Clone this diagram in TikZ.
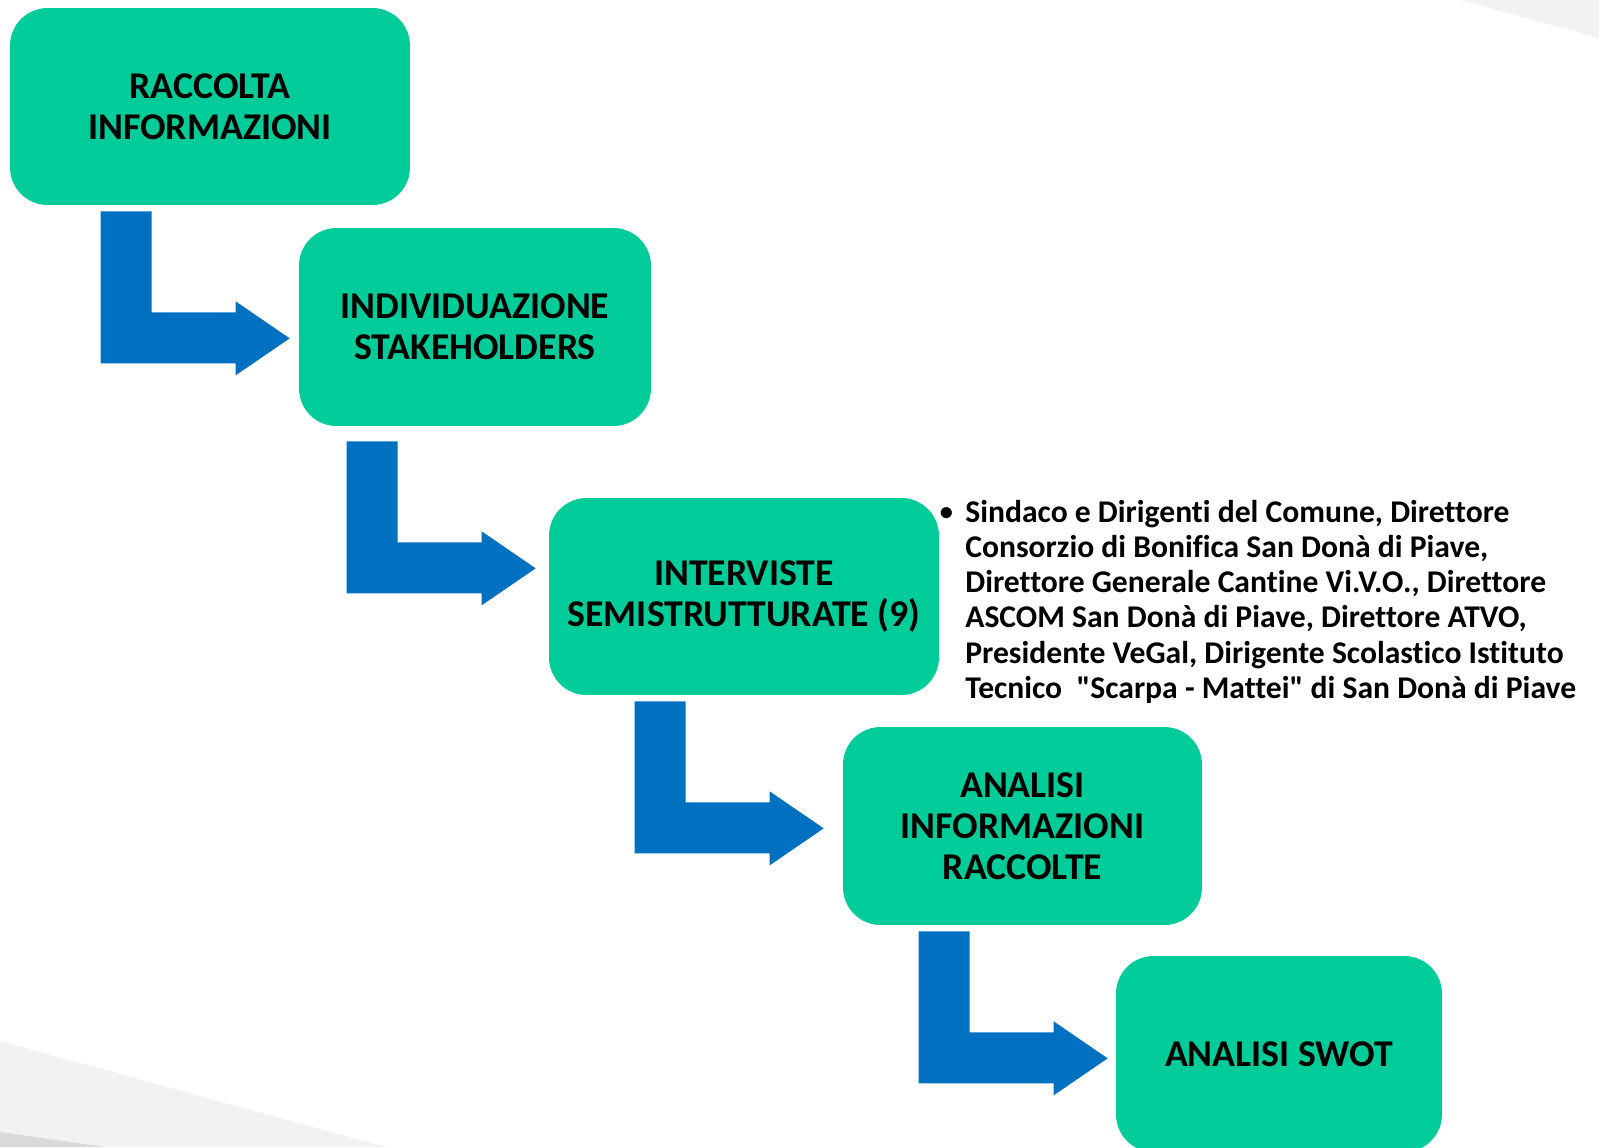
\documentclass[tikz,border=0pt]{standalone}
\usepackage{fontspec}
\setmainfont{Carlito}[Ligatures={TeXOff,NoCommon}]
\usetikzlibrary{positioning}
\usetikzlibrary{calc}
\definecolor{stepgreen}{RGB}{0,204,153}
\definecolor{stepblue}{RGB}{0,112,192}
\definecolor{bglight}{RGB}{242,242,242}
\definecolor{bgdark}{RGB}{217,217,217}

\tikzset{
  phase/.style={rectangle, rounded corners=0.75cm, fill=stepgreen, align=center, inner sep=0pt,
    font=\fontsize{21.5}{23.3}\selectfont\bfseries},
  side/.style={align=left, inner sep=0pt, font=\fontsize{18}{20}\selectfont\bfseries},
  bentarrow/.pic={
    \fill[stepblue] (0,0) -- (51,0) -- (51,101) -- (135,101) -- (135,90) -- (189,127)
      -- (135,164) -- (135,152) -- (0,152) -- cycle;
  }
}

\begin{document}
\begin{tikzpicture}[x=0.02cm, y=-0.02cm]
            \useasboundingbox (0,0) rectangle (1599,1147);
            % background
            \fill[bglight] (1460,0) -- (1599,38) -- (1599,0) -- cycle;
            \fill[bglight] (0,1041) -- (386,1147) -- (0,1147) -- cycle;
            \fill[bgdark] (0,1132) -- (105,1147) -- (0,1147) -- cycle;

            \node[phase, minimum width=8cm, minimum height=3.94cm] (s1) at (210,106.5) {RACCOLTA\\INFORMAZIONI};
            \node[phase, minimum width=7.04cm, minimum height=3.96cm] (s2) at (475,327) {INDIVIDUAZIONE\\STAKEHOLDERS};
            \node[phase, minimum width=7.8cm, minimum height=3.94cm] (s3) at (744,596.5) {INTERVISTE\\SEMISTRUTTURATE (9)};
            \node[phase, minimum width=7.18cm, minimum height=3.96cm] (s4) at (1022.5,826) {ANALISI\\INFORMAZIONI\\RACCOLTE};
            \node[phase, minimum width=6.52cm, minimum height=3.92cm] (s5) at (1279,1054) {ANALISI SWOT};

            \pic at ($(s1.south west)+(91,6)$) {bentarrow};
            \pic at ($(s2.south west)+(48,15)$) {bentarrow};
            \pic at ($(s3.south west)+(86,6)$) {bentarrow};
            \pic at ($(s4.south west)+(76,6)$) {bentarrow};

            \node[side, anchor=north west] (who) at (965,500) {\llap{\raisebox{1pt}{\fontsize{15}{15}\selectfont\textbullet}\hspace{7pt}}Sindaco e Dirigenti del Comune, Direttore\\
              Consorzio di Bonifica San Donà di Piave,\\
              Direttore Generale Cantine Vi.V.O., Direttore\\
              ASCOM San Donà di Piave, Direttore ATVO,\\
              Presidente VeGal, Dirigente Scolastico Istituto\\
              Tecnico\ \ "Scarpa - Mattei" di San Donà di Piave};
        \end{tikzpicture}
\end{document}
